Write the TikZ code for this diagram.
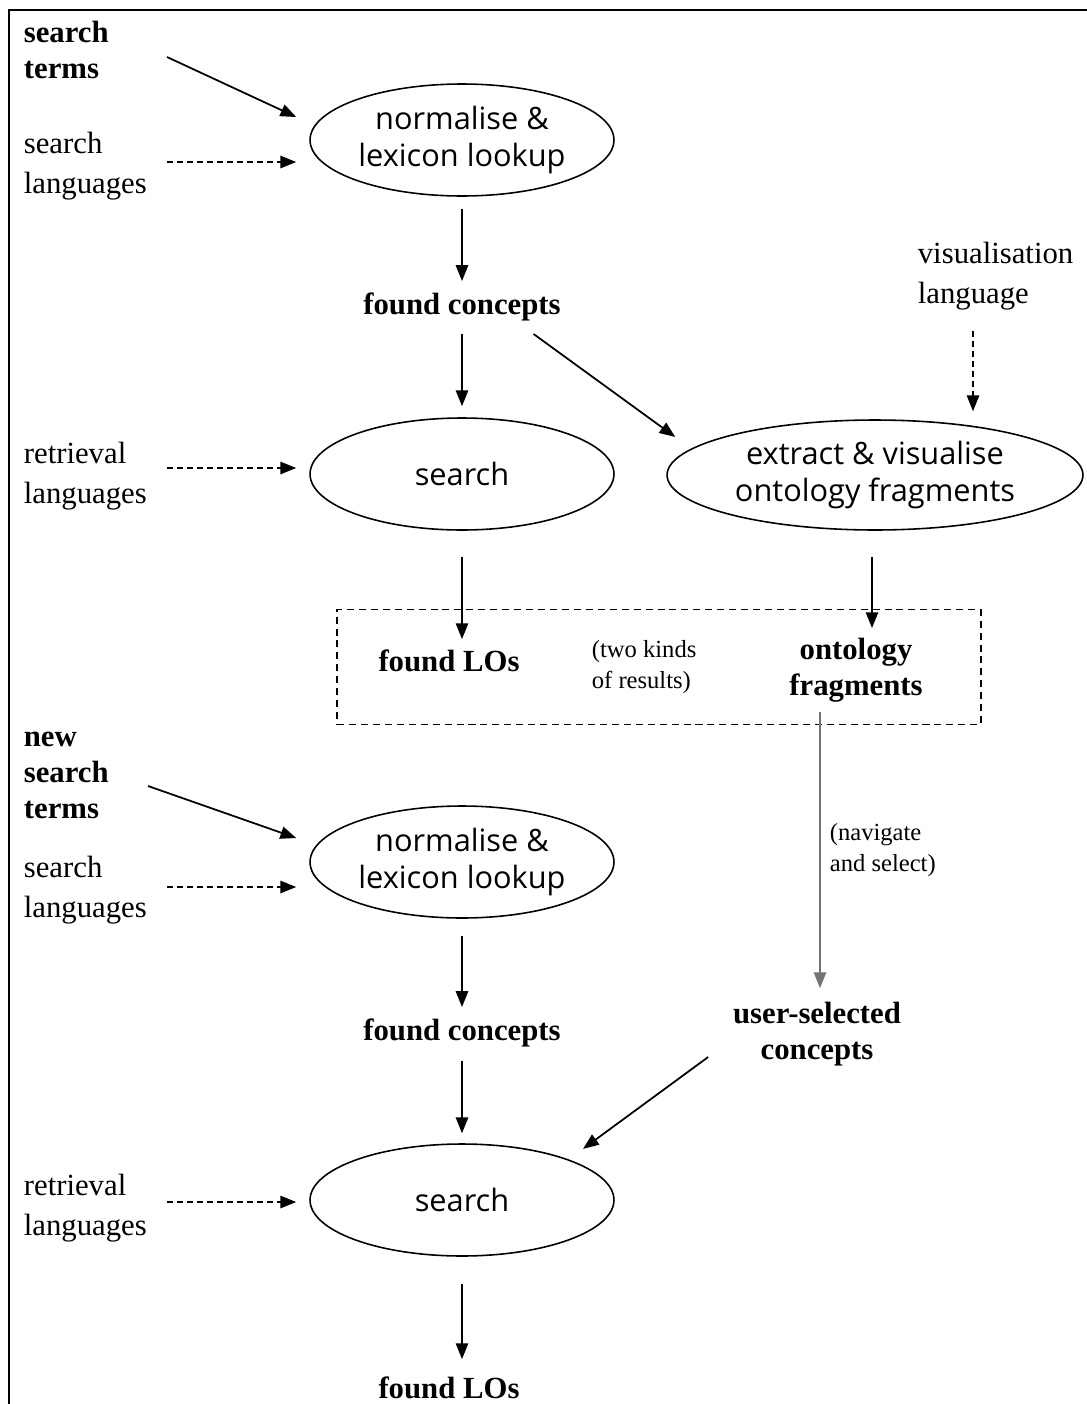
\documentclass[tikz,border=0pt]{standalone}
\usepackage{fontspec}
\setmainfont{Liberation Serif}
\setsansfont{Open Sans}
\usepackage{tikz}
\usetikzlibrary{positioning,arrows,arrows.meta,shapes,calc}

\begin{document}
\begin{tikzpicture}[
    x=0.02cm, y=-0.02cm,
    oval/.style={ellipse,draw=black,line width=0.9pt,inner sep=0pt,minimum width=6.08cm,minimum height=2.24cm,font=\sffamily\fontsize{17.5}{21.5}\selectfont,align=center},
    term/.style={inner sep=2pt,font=\bfseries\fontsize{17.5}{20.5}\selectfont,align=center},
    side/.style={inner sep=2pt,anchor=west,font=\fontsize{17.5}{22.5}\selectfont,align=left},
    note/.style={inner sep=2pt,anchor=west,font=\fontsize{14}{18}\selectfont,align=left},
    arrow/.style={-{Triangle[length=9pt,width=7pt]},line width=1pt,black},
    dasharrow/.style={arrow,dash pattern=on 3.4pt off 2.3pt}
]
\useasboundingbox (0,0) rectangle (1087,1404);
\draw[line width=1.1pt] (9,1404) -- (9,10) -- (1087,10);

% first query
\node[term,anchor=west,align=left] (terms) at (20,50) {search\\terms};
\node[side] (lang1) at (20,166) {search\\languages};
\node[oval] (norm1) at (462,140) {normalise \&\\lexicon lookup};
\node[term] (fc1) at (462,307) {found concepts};
\node[side] (vislang) at (914,276) {visualisation\\language};
\node[side] (ret1) at (20,476) {retrieval\\languages};
\node[oval] (search1) at (462,474) {search};
\node[oval,minimum width=8.32cm,minimum height=2.2cm] (extract) at (875,475) {extract \& visualise\\ontology fragments};

% results
\node[draw,dash pattern=on 4pt off 2.8pt,line width=0.8pt,minimum width=12.88cm,minimum height=2.3cm] (results) at (659,667) {};
\node[term] (los1) at (449,661) {found LOs};
\node[note] (kinds) at (588,667) {(two kinds\\of results)};
\node[term] (frag) at (856,670) {ontology\\fragments};

% second query
\node[term,anchor=west,align=left] (newterms) at (20,775) {new\\search\\terms};
\node[side] (lang2) at (20,890) {search\\languages};
\node[oval] (norm2) at (462,862) {normalise \&\\lexicon lookup};
\node[note] (navig) at (826,850) {(navigate\\and select)};
\node[term] (usersel) at (817,1034) {user-selected\\concepts};
\node[term] (fc2) at (462,1033) {found concepts};
\node[side] (ret2) at (20,1208) {retrieval\\languages};
\node[oval] (search2) at (462,1200) {search};
\node[term] (los2) at (449,1388) {found LOs};

\draw[arrow] ($(167,0 |- terms)+(0,7)$) -- ($(norm1.west)+(-13,-23)$);
\draw[dasharrow] ($(167,0 |- lang1)+(0,-4)$) -- ($(norm1.west |- lang1)+(-13,-4)$);
\draw[arrow] ($(norm1.south)+(0,12)$) -- ($(fc1.north)+(0,-8)$);
\draw[arrow] ($(fc1.south)+(0,9)$) -- ($(search1.north)+(0,-11)$);
\draw[arrow] ($(fc1.south east)+(-31,9)$) -- ($(extract.west)+(9,-38)$);
\draw[dasharrow] ($(vislang.south west)+(59,17)$) -- ($(extract.north)+(98,-8)$);
\draw[dasharrow] ($(167,0 |- ret1)+(0,-8)$) -- ($(search1.west |- ret1)+(-13,-8)$);
\draw[arrow] ($(search1.south)+(0,26)$) -- ($(los1.north -| search1.south)+(0,-7)$);
\draw[arrow] ($(extract.south)+(-3,26)$) -- ($(frag.north -| extract.south)+(-3,-6)$);
\draw[arrow,draw=black!55] ($(frag.south)+(-36,6)$) -- ($(usersel.north)+(3,-10)$);

\draw[arrow] ($(148,0 |- newterms)+(0,11)$) -- ($(norm2.west)+(-13,-24)$);
\draw[dasharrow] ($(167,0 |- lang2)+(0,-3)$) -- ($(norm2.west |- lang2)+(-13,-3)$);
\draw[arrow] ($(norm2.south)+(0,17)$) -- ($(fc2.north)+(0,-8)$);
\draw[arrow] ($(fc2.south)+(0,10)$) -- ($(search2.north)+(0,-10)$);
\draw[arrow] ($(usersel.west)+(-21,23)$) -- ($(search2.north east)+(13,-11)$);
\draw[dasharrow] ($(167,0 |- ret2)+(0,-6)$) -- ($(search2.west |- ret2)+(-13,-6)$);
\draw[arrow] ($(search2.south)+(0,27)$) -- ($(los2.north -| search2.south)+(0,-14)$);

\end{tikzpicture}
\end{document}
